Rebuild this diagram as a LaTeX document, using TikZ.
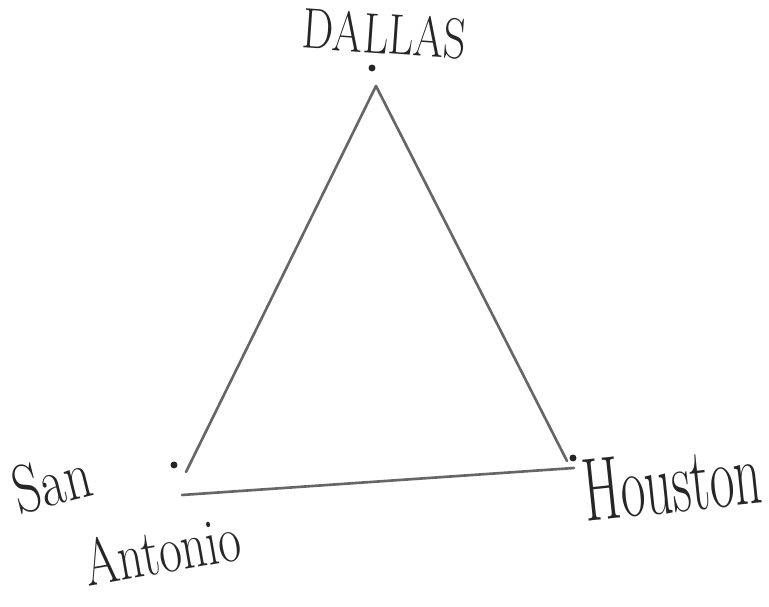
\documentclass[tikz,border=0pt]{standalone}
\usepackage{tikz}
\usetikzlibrary{positioning}
\begin{document}
\begin{tikzpicture}[x=0.02cm, y=-0.02cm, thick]
    \tikzset{
        city/.style={font=\fontsize{28}{30}\selectfont, text=black!85, inner sep=0pt},
        dot/.style={circle, fill=black!85, inner sep=1.4pt},
        road/.style={draw=black!60, line width=1.5pt, line cap=round}
    }
    \useasboundingbox (0,0) rectangle (769,607);

    % Die drei Städte als Punkte
    \node[dot] (dallas) at (372,68) {};
    \node[dot] (sanantonio) at (174,465) {};
    \node[dot] (houston) at (573,458) {};

    % Ecken des Dreiecks (Enden der Linien)
    \coordinate (top) at (376,86);
    \coordinate (left) at (186,472);
    \coordinate (right) at (567,461);
    \coordinate (bl) at (182,495);
    \coordinate (br) at (574,468);

    % Verbindungen
    \draw[road] (top) -- (left);
    \draw[road] (top) -- (right);
    \draw[road] (bl) -- (br);

    % Beschriftungen
    \node[city, rotate=-4, yscale=1.3, font=\fontsize{25}{27}\selectfont] (dallastext) at (385,34) {DALLAS};
    \node[city, rotate=6, xscale=0.95, yscale=1.6, font=\fontsize{32}{34}\selectfont] (houstontext) at (672,482) {Houston};
    \node[city, rotate=14, yscale=1.3, font=\fontsize{30}{32}\selectfont] (santext) at (52,482) {San};
    \node[city, rotate=10, yscale=1.35] (antoniotext) at (162,550) {Antonio};
\end{tikzpicture}
\end{document}
